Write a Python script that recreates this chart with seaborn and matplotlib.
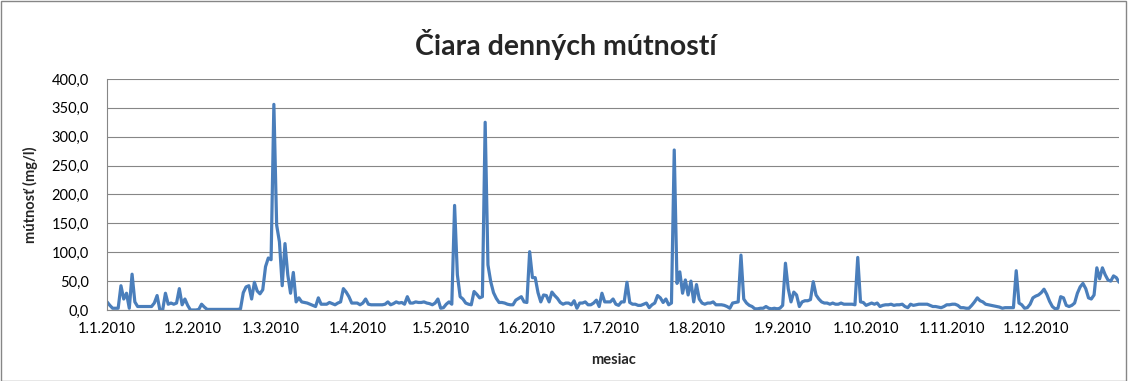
import matplotlib
matplotlib.use("Agg")
import matplotlib.pyplot as plt
from matplotlib.patches import Rectangle
import numpy as np
import pandas as pd
import seaborn as sns

# Daily turbidity readings for 2010 (mg/l), one list per month
jan = [14, 8, 3, 3, 3, 42, 19, 29, 3, 62, 14, 6, 6, 6, 6, 6, 6, 12, 25, 0, 0, 29, 10, 12, 10, 12, 37, 9, 19, 8, 0]
feb = [0, 0, 1, 10, 5, 1, 1, 1, 1, 1, 1, 1, 1, 1, 1, 1, 1, 2, 30, 40, 42, 19, 48, 33, 28, 35, 75, 90]
mar = [87, 356, 147, 118, 42, 115, 61, 29, 65, 14, 21, 14, 13, 12, 10, 8, 6, 21, 10, 10, 10, 13, 11, 9, 12, 14, 37, 31, 23, 12, 12]
apr = [12, 9, 12, 19, 10, 9, 9, 9, 9, 9, 10, 14, 9, 11, 14, 12, 13, 10, 23, 12, 12, 14, 13, 13, 14, 12, 11, 9, 12, 19]
may = [3, 4, 10, 14, 10, 181, 61, 23, 19, 12, 10, 9, 32, 27, 21, 23, 325, 78, 49, 30, 20, 13, 13, 12, 10, 9, 9, 17, 20, 23, 14]
jun = [13, 101, 56, 56, 30, 14, 26, 25, 14, 31, 25, 20, 13, 10, 12, 12, 9, 16, 3, 12, 12, 14, 9, 9, 12, 17, 6, 29, 14, 14]
jul = [14, 19, 10, 8, 14, 14, 48, 13, 10, 10, 8, 8, 10, 12, 4, 9, 12, 25, 21, 13, 19, 9, 12, 277, 46, 66, 29, 52, 26, 50, 14]
aug = [44, 19, 12, 10, 12, 12, 14, 9, 9, 9, 8, 6, 3, 12, 13, 14, 95, 19, 12, 8, 6, 2, 2, 3, 3, 6, 3, 2, 3, 2, 3]
sep = [8, 81, 37, 14, 31, 26, 6, 14, 16, 16, 18, 49, 26, 19, 14, 12, 12, 10, 12, 10, 10, 12, 10, 10, 10, 10, 9, 91, 14, 13]
oct_ = [8, 10, 12, 10, 12, 6, 8, 9, 9, 10, 8, 9, 9, 10, 6, 4, 10, 8, 9, 10, 10, 10, 10, 8, 6, 6, 5, 4, 6, 9, 9]
nov = [10, 10, 8, 4, 4, 3, 3, 8, 14, 21, 16, 14, 10, 9, 8, 7, 6, 5, 3, 4, 4, 4, 4, 68, 12, 9, 3, 4, 10, 21]
dec = [24, 26, 30, 36, 27, 15, 6, 2, 3, 23, 21, 8, 6, 8, 12, 29, 40, 46, 37, 21, 19, 26, 73, 54, 73, 61, 52, 50, 59, 56, 48]

month_labels = ["1.1.2010", "1.2.2010", "1.3.2010", "1.4.2010", "1.5.2010", "1.6.2010",
                "1.7.2010", "1.8.2010", "1.9.2010", "1.10.2010", "1.11.2010", "1.12.2010"]
y_ticks = [0, 50, 100, 150, 200, 250, 300, 350, 400]
y_labels = ["0,0", "50,0", "100,0", "150,0", "200,0", "250,0", "300,0", "350,0", "400,0"]

title = "Čiara denných mútností"
x_title = "mesiac"
y_title = "mútnosť (mg/l)"

values = jan + feb + mar + apr + may + jun + jul + aug + sep + oct_ + nov + dec
dates = pd.date_range("2010-01-01", periods=len(values), freq="D")
df = pd.DataFrame({"datum": dates, "mutnost": values})

sns.set_theme(style="white")
plt.rcParams["font.family"] = ["Lato", "DejaVu Sans"]

grey = "#868686"
fig = plt.figure(figsize=(11.28, 3.81), dpi=100)
ax = fig.add_axes([0.0949, 0.1864, 0.8972, 0.6063])

sns.lineplot(data=df, x="datum", y="mutnost", ax=ax, color="#4A7EBB", linewidth=2.3)

ax.set_xlim(dates[0], dates[-1])
ax.set_ylim(0, 400)
ax.set_yticks(y_ticks)
ax.set_yticklabels(y_labels)
month_starts = pd.date_range("2010-01-01", periods=12, freq="MS")
ax.set_xticks(month_starts)
ax.set_xticklabels(month_labels)

ax.yaxis.grid(True, color=grey, linewidth=0.8)
ax.xaxis.grid(False)
for side in ("top", "right"):
    ax.spines[side].set_visible(False)
for side in ("left", "bottom"):
    ax.spines[side].set_color(grey)
    ax.spines[side].set_linewidth(0.8)

ax.tick_params(axis="both", which="major", direction="out", length=4, width=0.8,
               color=grey, labelsize=10.5, labelcolor="black")
ax.tick_params(axis="y", pad=9)
ax.tick_params(axis="x", pad=5)

ax.set_xlabel(x_title, fontsize=10.5, fontweight="bold", labelpad=12)
ax.set_ylabel(y_title, fontsize=10.5, fontweight="bold", labelpad=10)

fig.text(0.502, 0.882, title, ha="center", va="center", fontsize=20.5, fontweight="bold")

fig.patches.append(Rectangle((0.0005, 0.001), 0.998, 0.997, transform=fig.transFigure,
                             fill=False, edgecolor=grey, linewidth=1))

fig.savefig("out.png", dpi=100)
